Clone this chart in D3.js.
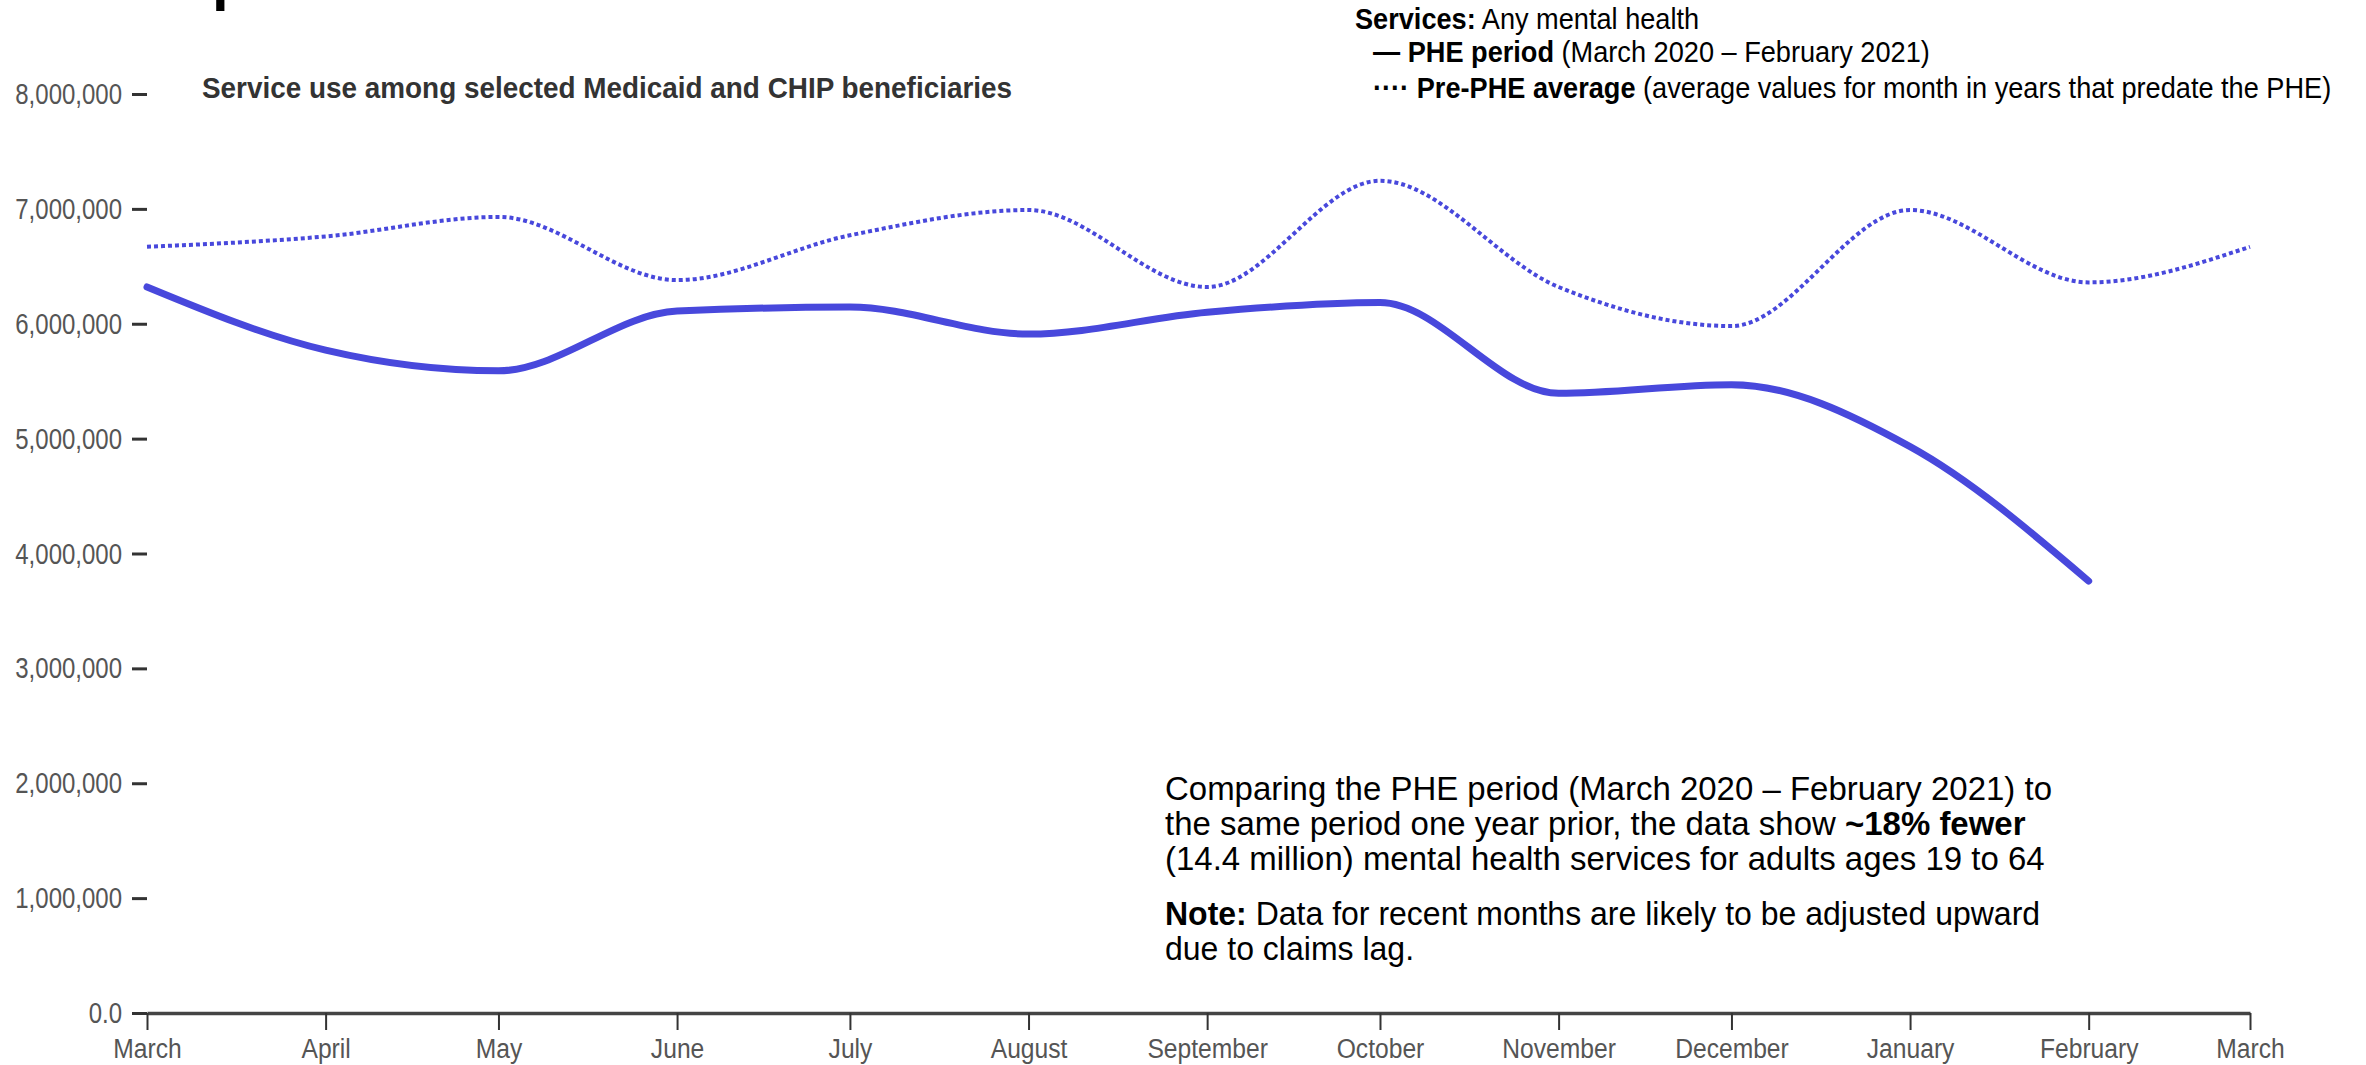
<!DOCTYPE html>
<head>
<meta charset="utf-8">
<script src="https://d3js.org/d3.v7.min.js"></script>
<style>
body, html {
  margin: 0;
  padding: 0;
  background: #fff;
}
svg text {
  font-family: "Liberation Sans", Arial, sans-serif;
}
.ytick text, .xtick text {
  fill: #555;
}
.line {
  fill: none;
  stroke: #4848dc;
}
</style>
</head>
<body>
<div id="chart"></div>
<script>

// month starts, March 2020 .. March 2021
var months = ["2020-03-01", "2020-04-01", "2020-05-01", "2020-06-01", "2020-07-01", "2020-08-01",
              "2020-09-01", "2020-10-01", "2020-11-01", "2020-12-01", "2021-01-01", "2021-02-01", "2021-03-01"];
// PHE period, March 2020 - February 2021
var phe = [6320000, 5770000, 5590000, 6110000, 6145000, 5910000,
           6100000, 6185000, 5395000, 5470000, 4930000, 3760000];
// pre-PHE average for the same month
var prePhe = [6670000, 6760000, 6930000, 6380000, 6770000, 6990000,
              6320000, 7245000, 6320000, 5980000, 6990000, 6360000, 6670000];
var yTicks = [0, 1000000, 2000000, 3000000, 4000000, 5000000, 6000000, 7000000, 8000000];

var width = 2366, height = 1065;
var margin = {left: 147, right: 116, top: 94, bottom: 52};

var svg = d3.select("#chart").append("svg")
    .attr("width", width)
    .attr("height", height);

// the source uses a narrow face; squeeze text horizontally around its anchor
function condense(sel, sx, origin) {
  sel.style("transform-box", "fill-box")
     .style("transform-origin", origin + " center")
     .style("transform", "scaleX(" + sx + ")");
}

var parse = d3.timeParse("%Y-%m-%d");
var dates = months.map(parse);

var x = d3.scaleTime()
    .domain([dates[0], dates[dates.length - 1]])
    .range([margin.left, width - margin.right]);
var y = d3.scaleLinear()
    .domain([0, 8000000])
    .range([height - margin.bottom, margin.top]);

// y axis (ticks only, no domain line)
var yAxis = svg.append("g")
    .attr("class", "ytick")
    .attr("transform", "translate(" + margin.left + ",0)")
    .call(d3.axisLeft(y).tickValues(yTicks).tickSize(15).tickPadding(10)
        .tickFormat(function(d) { return d === 0 ? "0.0" : d3.format(",")(d); }));
yAxis.select(".domain").remove();
yAxis.selectAll("line").attr("stroke", "#333").attr("stroke-width", 3);
yAxis.selectAll("text").style("font-size", "30px").call(condense, 0.8, "right");

// x axis
var xAxis = svg.append("g")
    .attr("class", "xtick")
    .attr("transform", "translate(0," + y(0) + ")")
    .call(d3.axisBottom(x).tickValues(dates).tickSize(17).tickSizeOuter(0).tickPadding(8)
        .tickFormat(d3.timeFormat("%B")));
xAxis.select(".domain").attr("stroke", "#444").attr("stroke-width", 3.5);
xAxis.selectAll("line").attr("stroke", "#333").attr("stroke-width", 2);
xAxis.selectAll("text").style("font-size", "28px").call(condense, 0.88, "center");

var line = d3.line()
    .x(function(d) { return x(d.date); })
    .y(function(d) { return y(d.value); })
    .curve(d3.curveMonotoneX);

var preData = prePhe.map(function(v, i) { return {date: dates[i], value: v}; });
var pheData = phe.map(function(v, i) { return {date: dates[i], value: v}; });

svg.append("path")
    .datum(preData)
    .attr("class", "line")
    .attr("stroke-width", 4)
    .attr("stroke-dasharray", "4,3")
    .attr("d", line);

svg.append("path")
    .datum(pheData)
    .attr("class", "line")
    .attr("stroke-width", 7)
    .attr("stroke-linecap", "round")
    .attr("d", line);

// cut-off heading fragment at the very top
svg.append("text")
    .attr("x", 212).attr("y", -1)
    .style("font-weight", "bold")
    .style("font-size", "60px")
    .attr("fill", "#000")
    .text("p");

// chart subtitle
svg.append("text")
    .attr("x", 202).attr("y", 98)
    .style("font-weight", "bold")
    .style("font-size", "30px")
    .attr("fill", "#333")
    .text("Service use among selected Medicaid and CHIP beneficiaries")
    .call(condense, 0.93, "left");

// legend
var legend = svg.append("g").style("font-size", "30px").attr("fill", "#000");
var l1 = legend.append("text").attr("x", 1355).attr("y", 29);
l1.append("tspan").style("font-weight", "bold").text("Services:");
l1.append("tspan").text(" Any mental health");
var l2 = legend.append("text").attr("x", 1373).attr("y", 62);
l2.append("tspan").style("font-weight", "bold").text("\u2014 PHE period");
l2.append("tspan").text(" (March 2020 \u2013 February 2021)");
var l3 = legend.append("text").attr("x", 1373).attr("y", 98);
l3.append("tspan").style("font-weight", "bold").text("\u00b7\u00b7\u00b7\u00b7 Pre-PHE average");
l3.append("tspan").text(" (average values for month in years that predate the PHE)");
legend.selectAll("text").call(condense, 0.905, "left");

// annotation
var note = svg.append("g").style("font-size", "34px").attr("fill", "#000");
note.append("text").attr("x", 1165).attr("y", 800)
    .text("Comparing the PHE period (March 2020 \u2013 February 2021) to");
var a2 = note.append("text").attr("x", 1165).attr("y", 835);
a2.append("tspan").text("the same period one year prior, the data show ");
a2.append("tspan").style("font-weight", "bold").text("~18% fewer");
note.append("text").attr("x", 1165).attr("y", 870)
    .text("(14.4 million) mental health services for adults ages 19 to 64");
var a4 = note.append("text").attr("x", 1165).attr("y", 925).style("font-size", "33px");
a4.append("tspan").style("font-weight", "bold").text("Note:");
a4.append("tspan").text(" Data for recent months are likely to be adjusted upward");
note.append("text").attr("x", 1165).attr("y", 960).style("font-size", "33px")
    .text("due to claims lag.");
note.selectAll("text").call(condense, 0.97, "left");

</script>
</body>
